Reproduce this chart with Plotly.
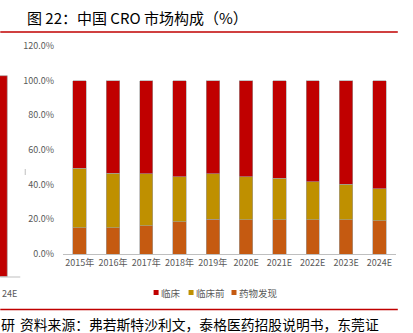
import plotly.graph_objects as go

years = ["2015年", "2016年", "2017年", "2018年", "2019年", "2020E", "2021E", "2022E", "2023E", "2024E"]
discovery = [15.2, 15.2, 16.2, 18.7, 20.0, 19.7, 19.7, 19.7, 19.7, 19.1]
preclinical = [34.3, 31.4, 30.0, 26.0, 26.2, 25.0, 24.0, 22.1, 20.6, 18.5]
clinical = [50.5, 53.4, 53.8, 55.3, 53.8, 55.3, 56.3, 58.2, 59.7, 62.4]
y_ticks = [0, 20, 40, 60, 80, 100, 120]
series_names = ["临床", "临床前", "药物发现"]
series_colors = ["#C00000", "#BF9000", "#C55A11"]

W, H = 413, 333
L, R, T, B = 62.8, 16.8, 46, 79
PW, PH = W - L - R, H - T - B

def px(x):
    return (x - L) / PW

def py(y):
    return (H - B - y) / PH

CJK = "Noto Sans CJK SC"
GRAY = "#595959"

fig = go.Figure()
line = dict(color="#A0A0A0", width=0.6)
for vals, name, color in [(discovery, series_names[2], series_colors[2]),
                          (preclinical, series_names[1], series_colors[1]),
                          (clinical, series_names[0], series_colors[0])]:
    fig.add_trace(go.Bar(x=years, y=vals, name=name, marker=dict(color=color, line=line), showlegend=False))

shapes = [
    dict(type="line", xref="paper", yref="paper", x0=px(0), x1=px(398), y0=py(32), y1=py(32),
         line=dict(color="#C00000", width=1.5)),
    dict(type="line", xref="paper", yref="paper", x0=px(0), x1=px(398), y0=py(309.5), y1=py(309.5),
         line=dict(color="#C00000", width=1.5)),
    dict(type="rect", xref="paper", yref="paper", x0=px(-2), x1=px(7), y0=py(276.5), y1=py(75.7),
         fillcolor="#C00000", line=dict(color="#A0A0A0", width=0.6)),
    dict(type="line", xref="paper", yref="paper", x0=px(0), x1=px(20), y0=py(277), y1=py(277),
         line=dict(color="#BFBFBF", width=1)),
    dict(type="line", xref="paper", yref="paper", x0=px(25), x1=px(25), y0=py(169), y1=py(175),
         line=dict(color="#BFBFBF", width=1)),
]

annotations = [
    dict(text="图 22：中国 CRO 市场构成（%）", xref="paper", yref="paper", x=px(25), y=py(17),
         xanchor="left", yanchor="middle", showarrow=False, font=dict(family=CJK, size=15, color="#000000")),
    dict(text="24E", xref="paper", yref="paper", x=px(0), y=py(293),
         xanchor="left", yanchor="middle", showarrow=False, font=dict(family=CJK, size=9, color=GRAY)),
    dict(text="研", xref="paper", yref="paper", x=px(-1), y=py(324),
         xanchor="left", yanchor="middle", showarrow=False, font=dict(family=CJK, size=14, color="#000000")),
    dict(text="资料来源：弗若斯特沙利文，泰格医药招股说明书，东莞证", xref="paper", yref="paper", x=px(18), y=py(324),
         xanchor="left", yanchor="middle", showarrow=False, font=dict(family=CJK, size=13.8, color="#000000")),
]

# legend (manual, compact like the reference)
leg_x = [153.5, 188.5, 231.5]
for xs, name, color in zip(leg_x, series_names, series_colors):
    shapes.append(dict(type="rect", xref="paper", yref="paper", x0=px(xs), x1=px(xs + 5),
                       y0=py(295), y1=py(290), fillcolor=color, line=dict(width=0)))
    annotations.append(dict(text=name, xref="paper", yref="paper", x=px(xs + 5.5), y=py(292.5),
                            xanchor="left", yanchor="middle", showarrow=False,
                            font=dict(family=CJK, size=9.5, color=GRAY)))

fig.update_layout(
    width=W, height=H,
    margin=dict(l=L, r=R, t=T, b=B, pad=0),
    paper_bgcolor="white", plot_bgcolor="white",
    barmode="stack", bargap=0.6,
    showlegend=False,
    xaxis=dict(showline=True, linecolor="#BFBFBF", linewidth=1, ticks="", showgrid=False,
               tickfont=dict(family=CJK, size=9, color=GRAY)),
    yaxis=dict(range=[0, 120], tickvals=y_ticks, ticktext=[f"{v:.1f}%" for v in y_ticks],
               showgrid=False, zeroline=False, showline=False, ticks="", ticklabelstandoff=8,
               tickfont=dict(family=CJK, size=9, color=GRAY)),
    shapes=shapes, annotations=annotations,
)

fig.write_html("out.html")
